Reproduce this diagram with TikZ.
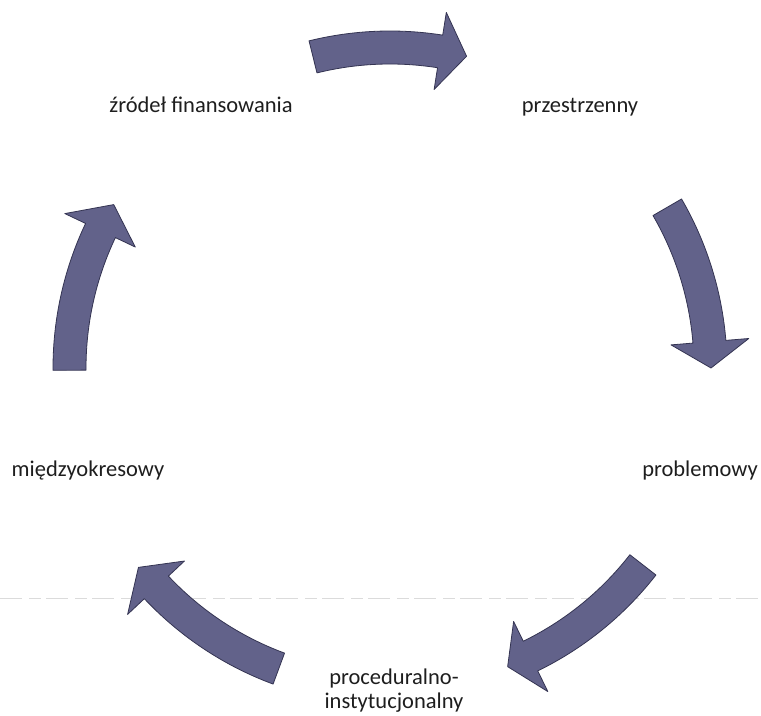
\documentclass[tikz,border=0pt]{standalone}
\usepackage{fontspec}
\setmainfont{Carlito}
\definecolor{arrowfill}{RGB}{98,98,138}
\definecolor{arrowedge}{RGB}{52,52,82}
\definecolor{labeltext}{RGB}{30,30,30}
\tikzset{
  cyclabel/.style={inner sep=0pt, text=labeltext, font=\fontsize{22.5bp}{24bp}\selectfont, align=center, anchor=base},
  cycshape/.style={fill=arrowfill, draw=arrowedge, line width=0.8bp, line join=round},
  pics/cycarrow/.style n args={3}{code={
    \path[cycshape] (#1:337) arc[start angle=#1, end angle=#2, radius=337]
      -- (#2:360) -- (#3:321) -- (#2:282) -- (#2:304)
      arc[start angle=#2, end angle=#1, radius=304] -- cycle;
  }}
}
\begin{document}
\begin{tikzpicture}[x=1bp,y=1bp]
\useasboundingbox (0,0) rectangle (761,716);
\fill[white] (0,0) rectangle (761,716);
\coordinate (C) at (390,348);
% faint scan line
\coordinate (sl) at (0,118);
\coordinate (sr) at (761,118);
\draw[black!14, line width=0.7bp, dash pattern=on 22bp off 7bp on 12bp off 5bp] (sl) -- (sr);
% arrows
\pic at (C) {cycarrow={103.9}{81}{76.2}};
\pic at (C) {cycarrow={30.1}{4.7}{0}};
\pic at (C) {cycarrow={-37.9}{-64}{-68.5}};
\pic at (C) {cycarrow={-110.3}{-136.8}{-141.6}};
\pic at (C) {cycarrow={180.4}{154.6}{149.4}};
% labels
\node[cyclabel] (zrodel) at (201,603) {źródeł finansowania};
\node[cyclabel] (przes) at (580,603) {przestrzenny};
\node[cyclabel] (probl) at (700,239) {problemowy};
\node[cyclabel] (miedzy) at (88,239) {międzyokresowy};
\node[cyclabel] (proc) at (394,7.5) {proceduralno-\\instytucjonalny};
\end{tikzpicture}
\end{document}
